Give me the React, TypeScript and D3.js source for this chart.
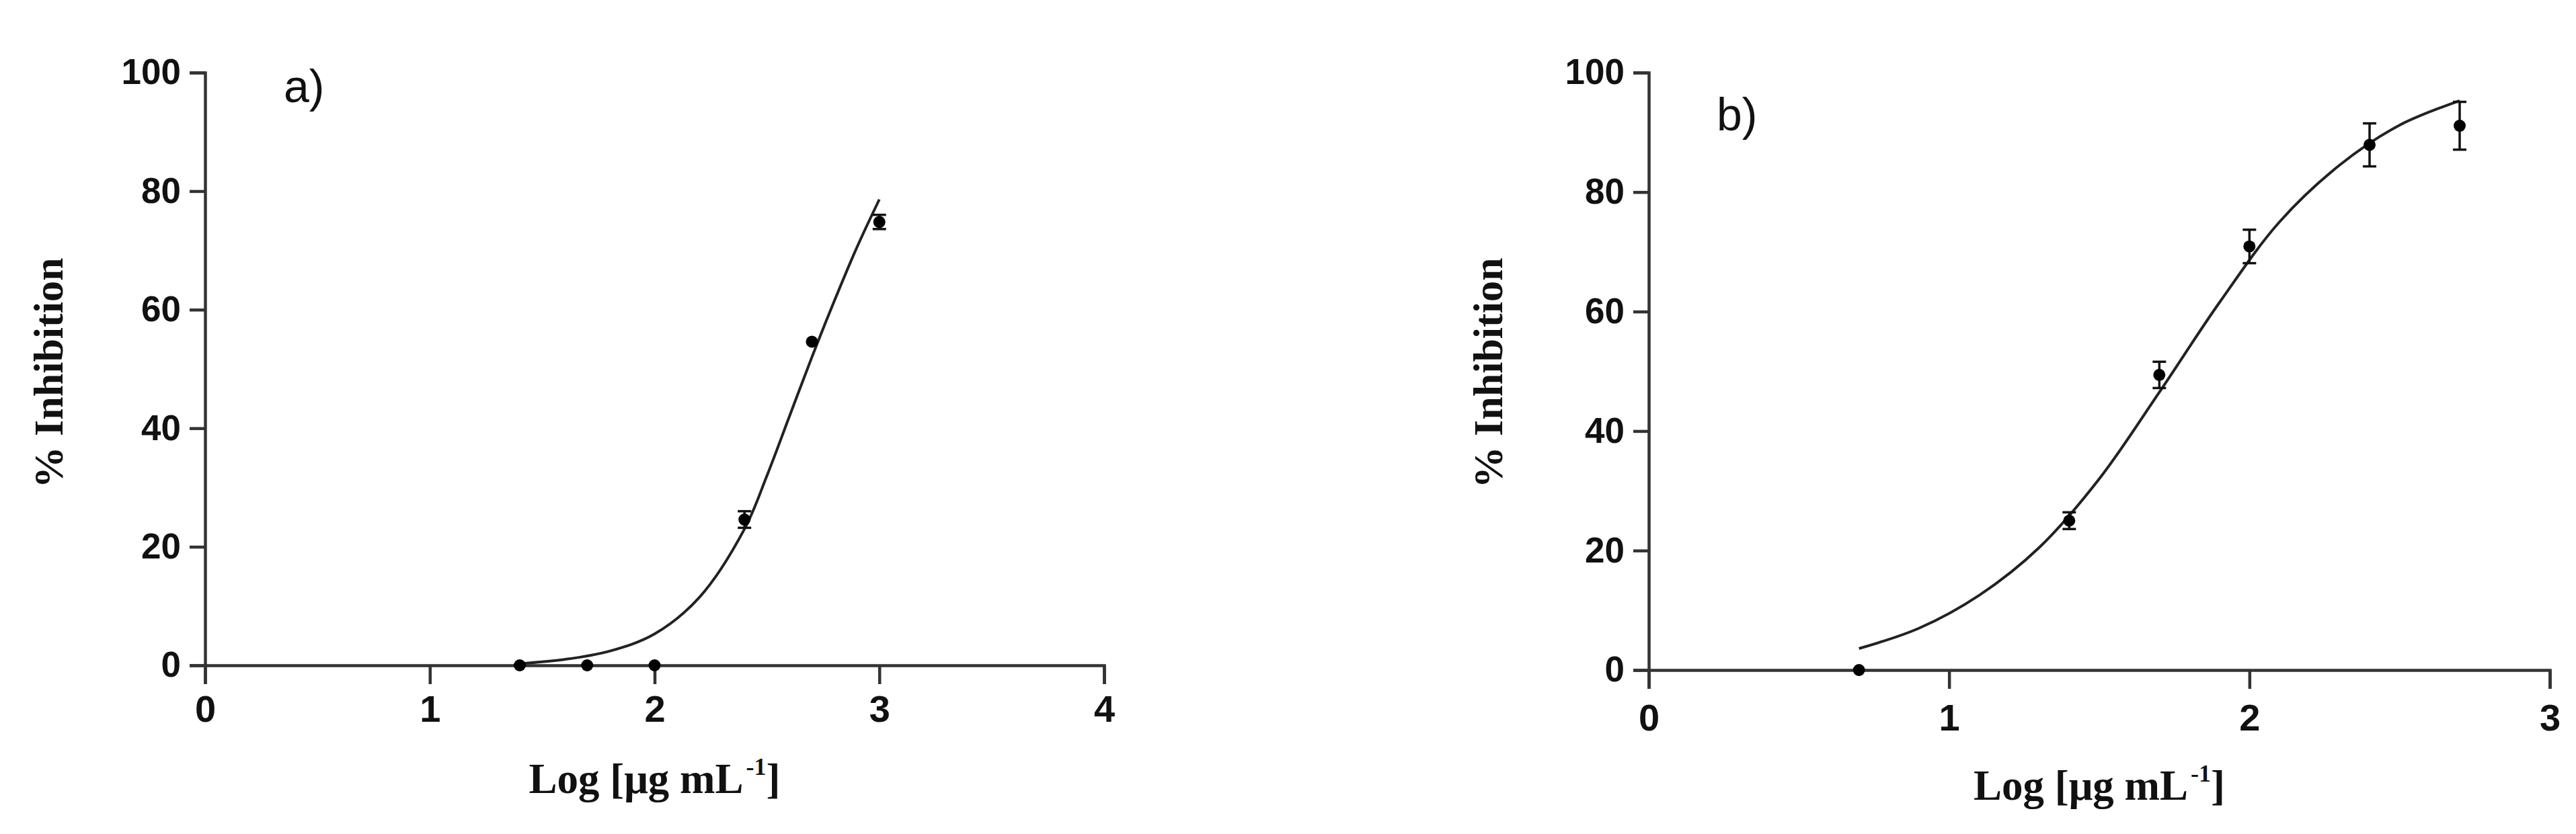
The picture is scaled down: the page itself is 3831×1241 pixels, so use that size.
import React, { useEffect, useRef } from 'react';
import * as d3 from 'd3';

const svgWidth = 3831;
const svgHeight = 1241;

// panel a) measured points (log conc, % inhibition, error)
const panelAX = [1.4, 1.7, 2.0, 2.4, 2.7, 3.0];
const panelAY = [0, 0, 0, 24.6, 54.6, 74.8];
const panelAErr = [0, 0, 0, 1.4, 0, 1.2];
// fitted curve
const panelACurveX = [1.4, 1.6, 1.8, 2.0, 2.2, 2.4, 2.5, 2.6, 2.7, 2.8, 2.9, 3.0];
const panelACurveY = [0.3, 1.0, 2.4, 5.3, 11.5, 23.0, 32.0, 42.0, 52.0, 61.5, 70.5, 78.6];

// panel b)
const panelBX = [0.7, 1.4, 1.7, 2.0, 2.4, 2.7];
const panelBY = [0, 25.0, 49.4, 70.9, 87.9, 91.1];
const panelBErr = [0, 1.4, 2.2, 2.8, 3.6, 4.0];
const panelBCurveX = [0.7, 0.9, 1.1, 1.3, 1.5, 1.7, 1.9, 2.1, 2.3, 2.5, 2.7];
const panelBCurveY = [3.6, 7.0, 12.5, 20.5, 32.0, 46.5, 61.5, 75.0, 84.5, 91.2, 95.3];

const xTicksA = [0, 1, 2, 3, 4];
const xTicksB = [0, 1, 2, 3];
const yTicks = [0, 20, 40, 60, 80, 100];

const axisColor = '#333';

function Panel(props: any) {
  const xAxisRef = useRef<SVGGElement>(null);
  const yAxisRef = useRef<SVGGElement>(null);
  const { xs, ys, errs, curveX, curveY, xTicks, layout, tag } = props;

  const xScale = d3
    .scaleLinear()
    .domain([0, xTicks[xTicks.length - 1]])
    .range([layout.left, layout.right]);
  const yScale = d3.scaleLinear().domain([0, 100]).range([layout.bottom, layout.top]);

  useEffect(() => {
    const xAxis = d3
      .axisBottom(xScale)
      .tickValues(xTicks)
      .tickSize(28)
      .tickPadding(layout.xPad)
      .tickFormat(d3.format('d'));
    const gx = d3.select(xAxisRef.current);
    gx.call(xAxis);
    gx.selectAll('path, line').attr('stroke', axisColor).attr('stroke-width', 4.5);
    gx.selectAll('text')
      .attr('fill', '#111')
      .style('font-family', 'Liberation Sans, Arial, sans-serif')
      .style('font-weight', 'bold')
      .style('font-size', '56px');

    const yAxis = d3
      .axisLeft(yScale)
      .tickValues(yTicks)
      .tickSize(23)
      .tickPadding(13)
      .tickFormat(d3.format('d'));
    const gy = d3.select(yAxisRef.current);
    gy.call(yAxis);
    gy.selectAll('path, line').attr('stroke', axisColor).attr('stroke-width', 4.5);
    gy.selectAll('text')
      .attr('fill', '#111')
      .style('font-family', 'Liberation Sans, Arial, sans-serif')
      .style('font-weight', 'bold')
      .style('font-size', '53px');
  }, []);

  const curvePts = curveX.map((x: number, i: number) => [x, curveY[i]] as [number, number]);
  const line = d3
    .line<[number, number]>()
    .x(d => xScale(d[0]))
    .y(d => yScale(d[1]))
    .curve(d3.curveCatmullRom.alpha(0.5));

  return (
    <g>
      <g ref={xAxisRef} transform={`translate(0, ${layout.bottom})`} />
      <g ref={yAxisRef} transform={`translate(${layout.left}, 0)`} />
      <path d={line(curvePts) || ''} fill="none" stroke="#222" strokeWidth={4} />
      {xs.map((x: number, i: number) => {
        const cx = xScale(x);
        const e = errs[i];
        return (
          <g key={tag + i}>
            {e > 0 && (
              <g stroke="#111" strokeWidth={3.5}>
                <line x1={cx} x2={cx} y1={yScale(ys[i] - e)} y2={yScale(ys[i] + e)} />
                <line x1={cx - 10} x2={cx + 10} y1={yScale(ys[i] + e)} y2={yScale(ys[i] + e)} />
                <line x1={cx - 10} x2={cx + 10} y1={yScale(ys[i] - e)} y2={yScale(ys[i] - e)} />
              </g>
            )}
            <circle cx={cx} cy={yScale(ys[i])} r={9} fill="#000" />
          </g>
        );
      })}
      <text
        x={layout.tagX}
        y={layout.tagY}
        fontFamily="Liberation Sans, Arial, sans-serif"
        fontSize={68}
        fill="#111"
      >
        {tag}
      </text>
      <text
        transform={`translate(${layout.yLabelX}, ${layout.yLabelY}) rotate(-90)`}
        textAnchor="middle"
        dominantBaseline="central"
        fontFamily="Liberation Serif, Times New Roman, serif"
        fontWeight="bold"
        fontSize={62}
        fill="#111"
      >
        % Inhibition
      </text>
      <text
        x={(layout.left + layout.right) / 2}
        y={layout.xLabelY}
        textAnchor="middle"
        fontFamily="Liberation Serif, Times New Roman, serif"
        fontWeight="bold"
        fontSize={63}
        fill="#111"
      >
        Log [μg mL
        <tspan fontSize={36} dy={-27} dx={4}>-1</tspan>
        <tspan dy={27}>]</tspan>
      </text>
    </g>
  );
}

const layoutA = {
  left: 305,
  right: 1642,
  top: 108,
  bottom: 990,
  xPad: 16,
  tagX: 422,
  tagY: 152,
  yLabelX: 72,
  yLabelY: 555,
  xLabelY: 1180,
};

const layoutB = {
  left: 2452,
  right: 3792,
  top: 108,
  bottom: 997,
  xPad: 22,
  tagX: 2553,
  tagY: 194,
  yLabelX: 2213,
  yLabelY: 555,
  xLabelY: 1190,
};

export default function App() {
  return (
    <svg
      width={svgWidth}
      height={svgHeight}
      style={{ position: 'absolute', left: 0, top: 0, background: '#fff' }}
    >
      <rect width={svgWidth} height={svgHeight} fill="#fff" />
      <Panel
        tag="a)"
        xs={panelAX}
        ys={panelAY}
        errs={panelAErr}
        curveX={panelACurveX}
        curveY={panelACurveY}
        xTicks={xTicksA}
        layout={layoutA}
      />
      <Panel
        tag="b)"
        xs={panelBX}
        ys={panelBY}
        errs={panelBErr}
        curveX={panelBCurveX}
        curveY={panelBCurveY}
        xTicks={xTicksB}
        layout={layoutB}
      />
    </svg>
  );
}
